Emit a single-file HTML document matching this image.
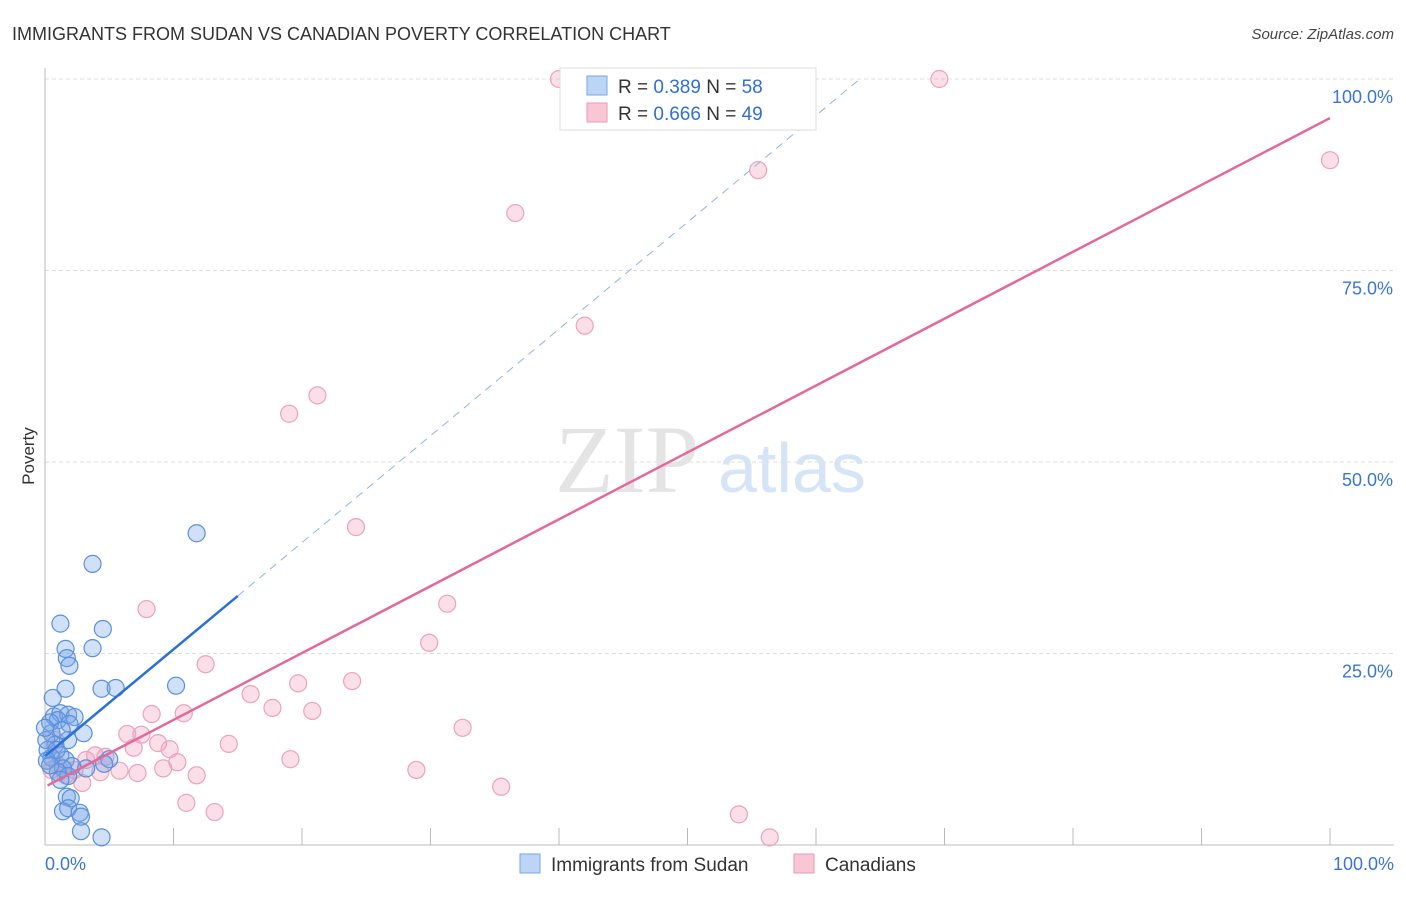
<!DOCTYPE html>
<html><head><meta charset="utf-8"><style>
body{margin:0;background:#fff;font-family:"Liberation Sans",sans-serif}
</style></head><body>
<svg width="1406" height="892" xmlns="http://www.w3.org/2000/svg" font-family="Liberation Sans, sans-serif">
<text x="12" y="40" font-size="18" fill="#333">IMMIGRANTS FROM SUDAN VS CANADIAN POVERTY CORRELATION CHART</text>
<text x="1394" y="39" font-size="15" fill="#444" font-style="italic" text-anchor="end">Source: ZipAtlas.com</text>
<text x="34" y="456" font-size="17" fill="#333" transform="rotate(-90 34 456)" text-anchor="middle">Poverty</text>
<g id="grid"></g>
<text x="555" y="492" font-size="96" fill="#e4e4e4" font-family="Liberation Serif, serif">ZIP</text>
<text x="718" y="492" font-size="70" fill="#d6e4f7">atlas</text>
<g id="pts"></g>
<g id="lines"></g>
<g>
<rect x="560" y="68" width="256" height="62" fill="#fff" stroke="#ddd"/>
<rect x="587" y="76" width="20" height="19" fill="#bcd4f5" stroke="#7aa6e6"/>
<text x="618" y="93" font-size="19" fill="#333">R = <tspan fill="#2f6fd6">0.389</tspan>   N = <tspan fill="#2f6fd6">58</tspan></text>
<rect x="587" y="103" width="20" height="19" fill="#f9c6d6" stroke="#ec9ab6"/>
<text x="618" y="120" font-size="19" fill="#333">R = <tspan fill="#2f6fd6">0.666</tspan>   N = <tspan fill="#2f6fd6">49</tspan></text>
</g>
<g>
<rect x="520" y="854" width="20" height="19" fill="#bcd4f5" stroke="#7aa6e6"/>
<text x="551" y="871" font-size="19" fill="#333">Immigrants from Sudan</text>
<rect x="794" y="854" width="20" height="19" fill="#f9c6d6" stroke="#ec9ab6"/>
<text x="825" y="871" font-size="19" fill="#333">Canadians</text>
</g>
</svg>
<script>
const yTicks=[25,50,75,100];
const yTickLabels=["25.0%","50.0%","75.0%","100.0%"];
const xTickLabels=["0.0%","100.0%"];
const blueX=[11.8,3.7,1.2,4.5,1.6,3.7,1.7,1.9,1.6,4.4,5.5,10.2,0.6,0.7,1.2,1.8,2.3,1.0,1.9,0.4,3.0,1.8,0.5,0.8,0.2,1.2,0.5,1.6,5.0,4.6,2.1,3.2,1.4,1.0,1.8,1.2,1.7,2.0,1.4,1.8,2.7,2.8,2.8,4.4,0.1,0.15,0.4,0.9,1.3,0.0];
const blueY=[40.7,36.7,28.9,28.2,25.6,25.7,24.4,23.4,20.4,20.4,20.5,20.8,19.2,16.8,17.2,17.0,16.7,16.3,15.8,16.0,14.6,13.7,14.6,13.1,12.4,11.7,11.4,11.1,11.2,10.6,10.3,10.0,10.0,9.5,9.0,8.5,6.3,6.1,4.4,4.8,4.2,3.7,1.8,1.0,13.7,11.0,10.4,12.4,15.0,15.3];
const pinkX=[40,69.6,55.5,100,36.6,42,21.2,19,24.2,31.3,7.9,29.9,12.5,23.9,19.7,16,17.7,20.8,8.3,10.8,32.5,6.4,7.5,14.3,8.8,9.7,6.9,3.9,4.7,19.1,10.3,9.2,5.8,4.3,7.2,11.8,28.9,2.9,35.5,11,13.2,54,56.4,1,0.5,1.6,2.3,3.2,0.8];
const pinkY=[100,100,88.1,89.4,82.5,67.8,58.7,56.3,41.5,31.5,30.8,26.4,23.6,21.4,21.1,19.7,17.9,17.5,17.1,17.2,15.3,14.5,14.4,13.2,13.3,12.5,12.7,11.7,11.5,11.2,10.8,10,9.7,9.5,9.4,9.1,9.8,8.1,7.6,5.5,4.3,4,1,10.4,9.8,9.1,9.8,11.1,13.7];
const blueTrend=[11.6,1.394]; // intercept, slope
const pinkTrend=[7.6,0.873];
const sx=v=>45+v*12.85, sy=v=>845-v*7.66;
const NS="http://www.w3.org/2000/svg";
function mk(t,a,p){const e=document.createElementNS(NS,t);for(const k in a)e.setAttribute(k,a[k]);p.appendChild(e);return e;}
const grid=document.getElementById('grid');
yTicks.forEach((t,i)=>{
 const l=mk('line',{x1:45,x2:1394,y1:sy(t),y2:sy(t),stroke:'#ddd','stroke-dasharray':'4,3'},grid);
 
 
 const tx=mk('text',{x:1393,y:sy(t)+24,'font-size':18,fill:'#3a75d6','text-anchor':'end'},grid);tx.textContent=yTickLabels[i];
 
 
});
const ax=mk('line',{x1:45,x2:1394,y1:845,y2:845,stroke:'#bbb'},grid);


const ay=mk('line',{x1:45,x2:45,y1:68,y2:845,stroke:'#bbb'},grid);


for(let i=1;i<=10;i++){const t=mk('line',{x1:sx(i*10),x2:sx(i*10),y1:828,y2:845,stroke:'#bbb'},grid);
 
 }
[[0,'start',45],[100,'end',1394]].forEach((d,i)=>{const t=mk('text',{x:d[2],y:870,'font-size':18,fill:'#3a75d6','text-anchor':d[1]},grid);t.textContent=xTickLabels[i];
 
 });
const pts=document.getElementById('pts');
pinkX.forEach((x,i)=>{const c=mk('circle',{cx:sx(x),cy:sy(pinkY[i]),r:8.5,fill:'rgba(242,160,188,0.35)',stroke:'#eca2bc','stroke-width':1.2},pts);
 
 });
blueX.forEach((x,i)=>{const c=mk('circle',{cx:sx(x),cy:sy(blueY[i]),r:8.5,fill:'rgba(120,165,230,0.35)',stroke:'#5b8fde','stroke-width':1.2},pts);
 
 });
const lines=document.getElementById('lines');
const bEnd=15, bDash=63.5;
let l1=mk('line',{x1:sx(0),y1:sy(blueTrend[0]),x2:sx(bEnd),y2:sy(blueTrend[0]+blueTrend[1]*bEnd),stroke:'#2a70d8','stroke-width':2.5},lines);


let l2=mk('line',{x1:sx(bEnd),y1:sy(blueTrend[0]+blueTrend[1]*bEnd),x2:sx(bDash),y2:sy(blueTrend[0]+blueTrend[1]*bDash),stroke:'#8fb3e8','stroke-width':1,'stroke-dasharray':'8,6'},lines);


let l3=mk('line',{x1:sx(0.2),y1:sy(pinkTrend[0]+pinkTrend[1]*0.2),x2:sx(100),y2:sy(pinkTrend[0]+pinkTrend[1]*100),stroke:'#e4689a','stroke-width':2.5},lines);


</script>
</body></html>
